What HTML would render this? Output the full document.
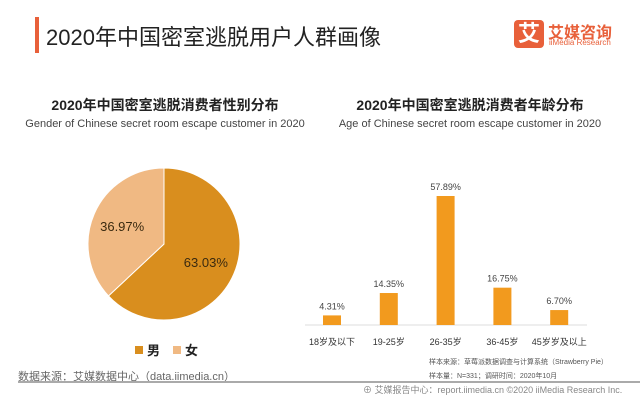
<!DOCTYPE html>
<html><head><meta charset="utf-8"><style>
body{margin:0;width:640px;height:400px;background:#fff;overflow:hidden;font-family:"Liberation Sans","Noto Sans CJK SC",sans-serif;position:relative}
.a{position:absolute;white-space:nowrap}
</style></head><body>
<div class="a" style="left:35px;top:17px;width:4px;height:36px;background:#e8603a"></div>
<div class="a" style="left:46px;top:20px;font-size:22px;color:#222">2020年中国密室逃脱用户人群画像</div>
<div class="a" style="left:514px;top:20px;width:30px;height:28px;background:#e8603a;border-radius:4px;color:#fff;font-size:22px;text-align:center;line-height:28px;font-weight:bold">艾</div>
<div class="a" style="left:548px;top:19px;font-size:16px;color:#e8603a;font-weight:bold">艾媒咨询</div>
<div class="a" style="left:549px;top:38px;font-size:8px;color:#e8603a">iiMedia Research</div>
<div class="a" style="left:0;width:330px;text-align:center;top:95px;font-size:14px;font-weight:bold;color:#222">2020年中国密室逃脱消费者性别分布</div>
<div class="a" style="left:0;width:330px;text-align:center;top:118px;font-size:11px;color:#444">Gender of Chinese secret room escape customer in 2020</div>
<div class="a" style="left:305px;width:330px;text-align:center;top:95px;font-size:14px;font-weight:bold;color:#222">2020年中国密室逃脱消费者年龄分布</div>
<div class="a" style="left:305px;width:330px;text-align:center;top:118px;font-size:11px;color:#444">Age of Chinese secret room escape customer in 2020</div>
<svg id="s" class="a" style="left:0;top:0" width="640" height="400"></svg>
<div class="a" style="left:18px;top:368px;font-size:11px;color:#666">数据来源：艾媒数据中心（data.iimedia.cn）</div>
<div class="a" style="left:18px;top:381px;width:622px;height:2px;background:#aaa"></div>
<div class="a" style="left:429px;top:357px;font-size:7px;color:#555">样本来源：草莓派数据调查与计算系统（Strawberry Pie）</div>
<div class="a" style="left:429px;top:371px;font-size:7px;color:#555">样本量：N=331；调研时间：2020年10月</div>
<div class="a" style="left:363px;top:383px;font-size:9px;color:#888">⊕ 艾媒报告中心：report.iimedia.cn ©2020 iiMedia Research Inc.</div>
<script>
const genderLabels=["男","女"];
const genderValues=[63.03,36.97];
const ageCategories=["18岁及以下","19-25岁","26-35岁","36-45岁","45岁岁及以上"];
const ageValues=[4.31,14.35,57.89,16.75,6.70];
const NS="http://www.w3.org/2000/svg";
const s=document.getElementById('s');
function mk(t,a,txt){const e=document.createElementNS(NS,t);for(const k in a)e.setAttribute(k,a[k]);if(txt!=null)e.textContent=txt;s.appendChild(e);return e;}
// pie
const cx=164,cy=244,r=76,cols=["#d98e1e","#f0b983"];
const tot=genderValues.reduce((a,b)=>a+b,0);let ang=0;
genderValues.forEach((v,i)=>{const a0=ang,a1=ang+v/tot*2*Math.PI;ang=a1;
const p=(a)=>[cx+r*Math.sin(a),cy-r*Math.cos(a)];const [x0,y0]=p(a0),[x1,y1]=p(a1);
const el=mk('path',{d:`M${cx},${cy}L${x0},${y0}A${r},${r} 0 ${a1-a0>Math.PI?1:0} 1 ${x1},${y1}Z`,fill:cols[i],stroke:"#fff","stroke-width":1});


const m=(a0+a1)/2,lr=r*0.6;
const t=mk('text',{x:cx+lr*Math.sin(m),y:cy-lr*Math.cos(m)+5,"text-anchor":"middle","font-size":13,fill:"#3a2a10"},v.toFixed(2)+"%");


const lx=135+i*38;
const sq=mk('rect',{x:lx,y:346,width:8,height:8,fill:cols[i]});


const lt=mk('text',{x:lx+12,y:355,"font-size":13,fill:"#222","font-weight":"bold"},genderLabels[i]);


});
// bars
const base=325,scale=129/57.89,x0=332,step=56.8,bw=18;
const ax=mk('line',{x1:305,x2:587,y1:base,y2:base,stroke:"#ddd","stroke-width":1});


ageCategories.forEach((c,i)=>{const x=x0+i*step,h=ageValues[i]*scale;
const b=mk('rect',{x:x-bw/2,y:base-h,width:bw,height:h,fill:"#f29a1e"});


const v=mk('text',{x:x,y:base-h-6,"text-anchor":"middle","font-size":9,fill:"#444"},ageValues[i].toFixed(2)+"%");


const l=mk('text',{x:x,y:345,"text-anchor":"middle","font-size":9,fill:"#333"},c);


});
</script>
</body></html>
